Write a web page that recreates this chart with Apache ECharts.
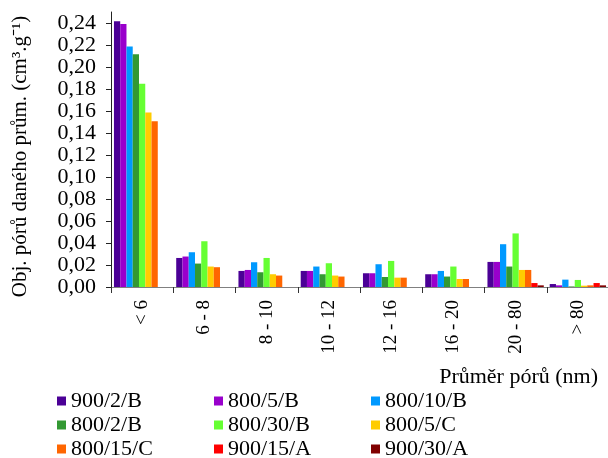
<!DOCTYPE html>
<html>
<head>
<meta charset="utf-8">
<script src="https://cdn.jsdelivr.net/npm/echarts@6/dist/echarts.min.js"></script>
<style>html,body{margin:0;padding:0;background:#fff}#c{width:608px;height:458px}</style>
</head>
<body>
<div id="c"></div>
<script>
var categories = ['< 6', '6 - 8', '8 - 10', '10 - 12', '12 - 16', '16 - 20', '20 - 80', '> 80'];
var seriesNames = ['900/2/B', '800/5/B', '800/10/B', '800/2/B', '800/30/B', '800/5/C', '800/15/C', '900/15/A', '900/30/A'];
var colors = ['#4B0096', '#9900CC', '#0099FF', '#339933', '#66FF33', '#FFCC00', '#FF6600', '#FF0000', '#800000'];
var s900_2_B  = [0.2415, 0.0264, 0.0146, 0.0146, 0.0125, 0.0116, 0.0228, 0.0027];
var s800_5_B  = [0.2390, 0.0277, 0.0155, 0.0146, 0.0125, 0.0116, 0.0228, 0.0015];
var s800_10_B = [0.2187, 0.0316, 0.0225, 0.0186, 0.0207, 0.0146, 0.0389, 0.0067];
var s800_2_B  = [0.2117, 0.0213, 0.0134, 0.0116, 0.0091, 0.0095, 0.0186, 0.0005];
var s800_30_B = [0.1847, 0.0416, 0.0264, 0.0216, 0.0237, 0.0186, 0.0487, 0.0064];
var s800_5_C  = [0.1586, 0.0186, 0.0116, 0.0104, 0.0085, 0.0073, 0.0155, 0.0012];
var s800_15_C = [0.1507, 0.0180, 0.0104, 0.0095, 0.0085, 0.0073, 0.0155, 0.0015];
var s900_15_A = [0, 0, 0, 0, 0, 0, 0.0036, 0.0036];
var s900_30_A = [0, 0, 0, 0, 0, 0, 0.0015, 0.0015];
var allValues = [s900_2_B, s800_5_B, s800_10_B, s800_2_B, s800_30_B, s800_5_C, s800_15_C, s900_15_A, s900_30_A];
var yTicks = [0, 0.02, 0.04, 0.06, 0.08, 0.10, 0.12, 0.14, 0.16, 0.18, 0.20, 0.22, 0.24];
var yTitle = 'Obj. pórů daného prům. (cm³.g⁻¹)';
var xTitle = 'Průměr pórů (nm)';

var FONT = '"Liberation Serif", "Times New Roman", serif';
var chart = echarts.init(document.getElementById('c'), null, {renderer: 'canvas'});

var series = seriesNames.map(function (n, i) {
  return {
    name: n, type: 'bar', data: allValues[i],
    itemStyle: {color: colors[i]},
    barGap: '0%', barCategoryGap: '9.5%',
    animation: false
  };
});

var colLeft = [57, 214, 371];
var rowTop = [390, 414, 438];
var legends = seriesNames.map(function (n, i) {
  return {
    left: colLeft[i % 3], top: rowTop[Math.floor(i / 3)], padding: 0,
    data: [{name: n, icon: 'rect'}],
    itemWidth: 9, itemHeight: 9, itemGap: 0,
    selectedMode: false,
    textStyle: {fontFamily: FONT, fontSize: 22, color: '#000'}
  };
});

chart.setOption({
  animation: false,
  title: {
    text: xTitle, right: 10, top: 366, padding: 0,
    textStyle: {fontFamily: FONT, fontSize: 22, fontWeight: 'normal', color: '#000'}
  },
  legend: legends,
  grid: {left: 111, top: 12, width: 498, height: 275, containLabel: false, outerBoundsMode: 'none'},
  xAxis: {
    type: 'category', data: categories,
    axisLine: {lineStyle: {color: '#808080', width: 1}},
    axisTick: {show: true, length: 6, lineStyle: {color: '#333'}, alignWithLabel: false},
    axisLabel: {rotate: 90, margin: 13, fontFamily: FONT, fontSize: 19, color: '#000', interval: 0}
  },
  yAxis: {
    type: 'value', min: 0, max: 0.25, interval: 0.01,
    name: yTitle, nameLocation: 'middle', nameGap: 80, nameRotate: 90,
    nameTextStyle: {fontFamily: FONT, fontSize: 21, color: '#000', padding: [0, 14, 0, 0]},
    axisLine: {show: true, lineStyle: {color: '#222', width: 1}},
    axisTick: {show: true, length: 5, customValues: yTicks, lineStyle: {color: '#222'}},
    splitLine: {show: false},
    axisLabel: {
      customValues: yTicks, margin: 15, fontFamily: FONT, fontSize: 22, color: '#000',
      formatter: function (v) { return v.toFixed(2).replace('.', ','); }
    }
  },
  series: series
});
</script>
</body>
</html>
